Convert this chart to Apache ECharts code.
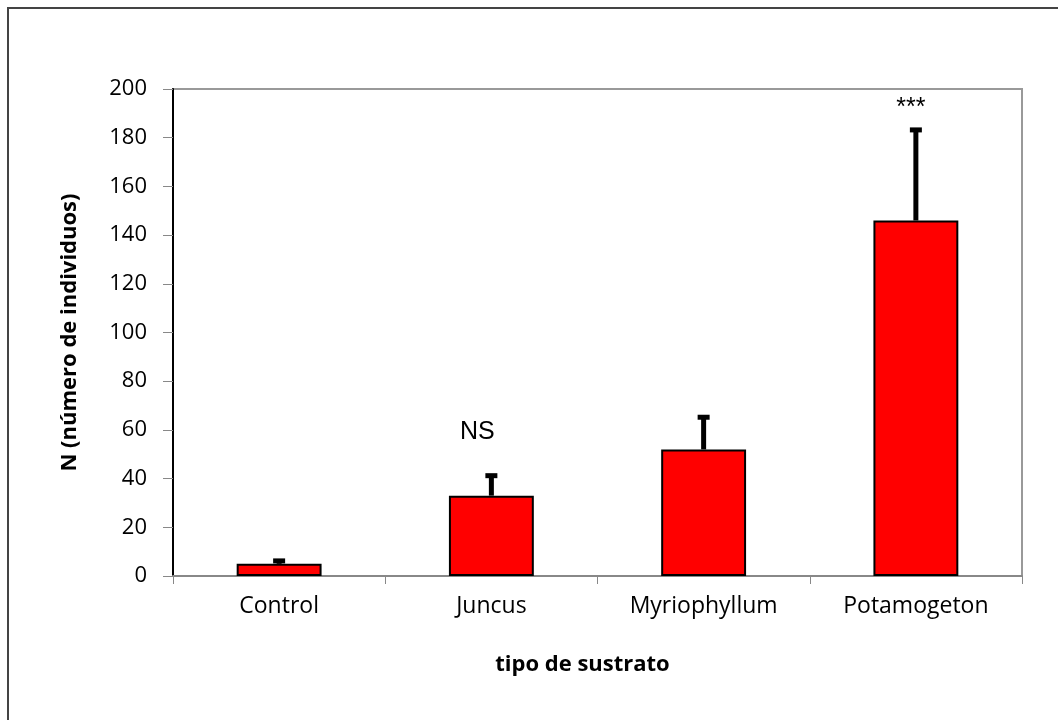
<!DOCTYPE html>
<html>
<head>
<meta charset="utf-8">
<script src="https://cdn.jsdelivr.net/npm/echarts@6/dist/echarts.min.js"></script>
<style>
  html, body { margin: 0; padding: 0; background: #fff; }
  #chart { width: 1058px; height: 720px; }
</style>
</head>
<body>
<div id="chart"></div>
<script>
'use strict';

// datos
var sustratos = ['Control', 'Juncus', 'Myriophyllum', 'Potamogeton'];
var medias = [5, 33, 52, 146];
var errores = [1.2, 8.2, 13.2, 37.2];   // solo la barra superior
var marcas = ['', 'NS', '', '***'];
var marcasY = [0, 59, 0, 192];
var yTicks = [0, 20, 40, 60, 80, 100, 120, 140, 160, 180, 200];

var chart = echarts.init(document.getElementById('chart'));

var errData = sustratos.map(function (s, i) {
    return [i, medias[i], medias[i] + errores[i]];
});

var anotaciones = [];
marcas.forEach(function (m, i) {
    if (m) {
        anotaciones.push({
            coord: [sustratos[i], marcasY[i]],
            value: m,
            label: { offset: [m === 'NS' ? -14 : -5, 0] }
        });
    }
});

var option = {
    animation: false,
    backgroundColor: '#fff',
    textStyle: { fontFamily: 'Open Sans' },
    graphic: [{
        type: 'rect',
        shape: { x: 8, y: 8, width: 1200, height: 900 },
        style: { fill: 'none', stroke: '#444', lineWidth: 2 },
        silent: true
    }],
    grid: {
        left: 173, top: 89, right: 36, bottom: 144,
        show: true, borderColor: '#999', borderWidth: 2
    },
    xAxis: {
        type: 'category',
        data: sustratos,
        name: 'tipo de sustrato',
        nameLocation: 'middle',
        nameGap: 78,
        nameTextStyle: { fontSize: 22, fontWeight: 'bold', color: '#000', padding: [0, 30, 0, 0] },
        axisLine: { lineStyle: { color: '#888', width: 2 } },
        axisTick: { show: true, length: 8, lineStyle: { color: '#888' } },
        axisLabel: { fontSize: 23, color: '#000', margin: 19 },
        splitLine: { show: false }
    },
    yAxis: {
        type: 'value',
        min: 0, max: 200, interval: 20,
        name: 'N (número de individuos)',
        nameLocation: 'middle',
        nameGap: 92,
        nameRotate: 90,
        nameTextStyle: { fontSize: 22, fontWeight: 'bold', color: '#000' },
        axisLine: { show: true, lineStyle: { color: '#000', width: 2 } },
        axisTick: { show: true, inside: false, length: 10, lineStyle: { color: '#888' } },
        axisLabel: {
            fontSize: 22, color: '#000', margin: 26,
            formatter: function (v) { return yTicks.indexOf(v) >= 0 ? String(v) : ''; }
        },
        splitLine: { show: false }
    },
    series: [{
        type: 'bar',
        data: medias,
        barWidth: '40%',
        itemStyle: { color: '#ff0000', borderColor: '#000', borderWidth: 2 },
        markPoint: {
            symbol: 'circle',
            symbolSize: 0,
            label: {
                show: true,
                position: 'inside',
                fontFamily: 'Liberation Sans',
                fontSize: 25,
                color: '#000',
                formatter: function (p) { return p.value; }
            },
            data: anotaciones
        },
        z: 2
    }, {
        type: 'custom',
        data: errData,
        encode: { x: 0, y: [1, 2] },
        z: 3,
        renderItem: function (params, api) {
            var x = api.value(0);
            var base = api.coord([x, api.value(1)]);
            var top = api.coord([x, api.value(2)]);
            return {
                type: 'group',
                children: [{
                    type: 'line',
                    shape: { x1: base[0], y1: base[1], x2: top[0], y2: top[1] },
                    style: { stroke: '#000', lineWidth: 5 }
                }, {
                    type: 'line',
                    shape: { x1: top[0] - 6, y1: top[1], x2: top[0] + 6, y2: top[1] },
                    style: { stroke: '#000', lineWidth: 5 }
                }]
            };
        }
    }]
};

chart.setOption(option);
</script>
</body>
</html>
